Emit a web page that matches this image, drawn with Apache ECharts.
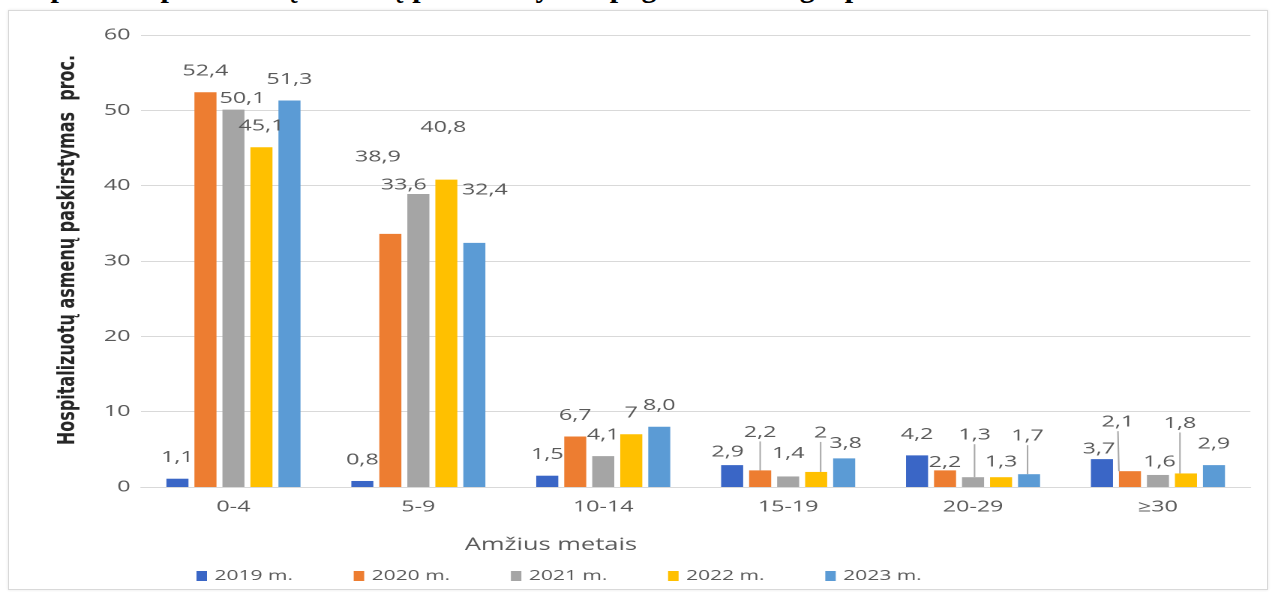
<!DOCTYPE html>
<html lang="lt">
<head>
<meta charset="utf-8">
<title>Hospitalizuotų asmenų pasiskirstymas pagal amžiaus grupes</title>
<script src="https://cdn.jsdelivr.net/npm/echarts@6/dist/echarts.min.js"></script>
<style>
  html, body { margin: 0; padding: 0; width: 1276px; height: 592px; overflow: hidden; background: #fff; position: relative; }
  #frame { position: absolute; left: 8px; top: 10px; width: 1258px; height: 578px; border: 1px solid #d9d9d9; box-shadow: 0 0 3px rgba(0,0,0,0.10); background: #fff; }
  #heading { position: absolute; left: 28px; top: -28px; font: bold 30px/30px "Liberation Serif", "Times New Roman", serif; color: #000; white-space: nowrap; }
  /* the chart is laid out narrower and widened horizontally */
  #chart { position: absolute; left: 0; top: 0; width: 850.67px; height: 592px; transform: scaleX(1.5); transform-origin: 0 0; }
</style>
</head>
<body>
<div id="frame"></div>
<div id="heading">1 pav. Hospitalizuotų asmenų pasiskirstymas pagal amžiaus grupes</div>
<div id="chart"></div>
<script>
// Age groups and yearly shares (%, as printed on the labels)
const categories = ['0-4', '5-9', '10-14', '15-19', '20-29', '≥30'];
const seriesNames = ['2019 m.', '2020 m.', '2021 m.', '2022 m.', '2023 m.'];
const share2019 = ['1,1', '0,8', '1,5', '2,9', '4,2', '3,7'];
const share2020 = ['52,4', '33,6', '6,7', '2,2', '2,2', '2,1'];
const share2021 = ['50,1', '38,9', '4,1', '1,4', '1,3', '1,6'];
const share2022 = ['45,1', '40,8', '7', '2', '1,3', '1,8'];
const share2023 = ['51,3', '32,4', '8,0', '3,8', '1,7', '2,9'];
const yMin = 0, yMax = 60, yStep = 10;

const yTitle = 'Hospitalizuotų asmenų paskirstymas  proc.';
const xTitle = 'Amžius metais';

const colors = ['#3a66c6', '#ed7d31', '#a5a5a5', '#ffc000', '#5b9bd5'];
const shares = [share2019, share2020, share2021, share2022, share2023];

// hand-placed label nudges: [dx, dy, leader line]
const labelNudge = [
  { 3: [-3, 8], 5: [-2, 11] },
  { 1: [9, -28], 3: [0, -17, true], 4: [0, 13], 5: [-8, -28, true] },
  { 0: [6, 10], 1: [-27, -16], 3: [0, -2], 4: [1, -21, true], 5: [1, 8] },
  { 1: [-2, -31], 3: [3, -18, true], 4: [0, 6], 5: [-4, -29, true] },
  { 1: [7, -32], 3: [1, 6], 4: [-1, -17, true] }
];

const toNumber = s => parseFloat(String(s).replace(',', '.'));
const font = '"Open Sans", "DejaVu Sans", sans-serif';
const grey = '#595959';

const series = shares.map((arr, si) => ({
  name: seriesNames[si],
  type: 'bar',
  barWidth: 14.7,
  barGap: '27%',
  itemStyle: { color: colors[si] },
  label: {
    show: true,
    position: 'top',
    distance: 12,
    color: grey,
    fontFamily: font,
    fontSize: 15.5,
    lineHeight: 18,
    formatter: p => arr[p.dataIndex]
  },
  labelLine: { show: false, lineStyle: { color: '#a6a6a6', width: 1 } },
  labelLayout: p => {
    const n = labelNudge[si][p.dataIndex];
    return n ? { dx: n[0], dy: n[1] } : {};
  },
  data: arr.map((s, ci) => {
    const n = labelNudge[si][ci];
    const item = { value: toNumber(s) };
    if (n && n[2]) item.labelLine = { show: true, lineStyle: { color: '#a6a6a6', width: 1 } };
    return item;
  })
}));

const chart = echarts.init(document.getElementById('chart'), null, { devicePixelRatio: 2 });
chart.setOption({
  animation: false,
  backgroundColor: 'transparent',
  textStyle: { fontFamily: font },
  grid: { left: 94, right: 17.4, top: 35, bottom: 105, containLabel: false },
  xAxis: {
    type: 'category',
    data: categories,
    axisTick: { show: false },
    axisLine: { lineStyle: { color: '#d9d9d9', width: 1 } },
    axisLabel: { color: grey, fontSize: 15.5, fontFamily: font, margin: 12 }
  },
  yAxis: {
    type: 'value',
    min: yMin, max: yMax, interval: yStep,
    axisLine: { show: false },
    axisTick: { show: false },
    splitLine: { lineStyle: { color: '#d9d9d9', width: 1 } },
    axisLabel: { color: grey, fontSize: 15.5, fontFamily: font, margin: 7 }
  },
  legend: {
    data: seriesNames,
    left: 126,
    top: 564,
    icon: 'rect',
    itemWidth: 7,
    itemHeight: 10,
    itemGap: 40.5,
    textStyle: { color: grey, fontSize: 14, fontFamily: font }
  },
  graphic: [
    {
      type: 'text',
      x: 45.3, y: 250,
      rotation: Math.PI / 2,
      style: { text: yTitle, fill: '#262626', font: 'bold 16px "DejaVu Sans", sans-serif', align: 'center', verticalAlign: 'middle' }
    },
    {
      type: 'text',
      x: 367.3, y: 545,
      style: { text: xTitle, fill: grey, font: '17px "Open Sans", "DejaVu Sans", sans-serif', align: 'center', verticalAlign: 'middle' }
    }
  ],
  series: series
});
</script>
</body>
</html>
